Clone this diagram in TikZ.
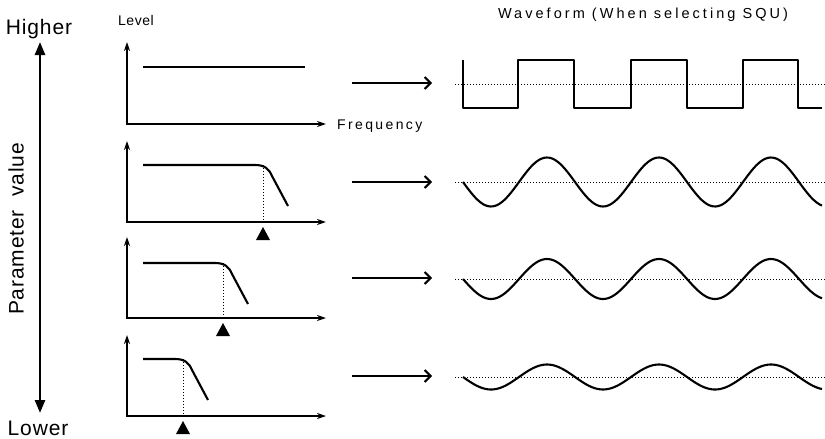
\documentclass[tikz,border=0pt]{standalone}
\usepackage{fontspec}
\setmainfont{Liberation Sans}
\newfontfamily\spacedA[LetterSpace=4]{Liberation Sans}
\newfontfamily\spacedB[LetterSpace=17]{Liberation Sans}
\newfontfamily\spacedC[LetterSpace=21]{Liberation Sans}
\newfontfamily\spacedD[LetterSpace=4]{Liberation Sans}
\usetikzlibrary{arrows.meta}
\tikzset{
  axis/.style={line width=1.7pt, {Stealth[length=9pt,width=6pt]}-{Stealth[length=9pt,width=6pt]}},
  curve/.style={line width=2.1pt, line join=round},
  dotline/.style={line width=0.9pt, dash pattern=on 1pt off 2pt},
  rowarrow/.style={line width=2.1pt, -{Straight Barb[length=6pt,width=12pt]}},
  bigarrow/.style={line width=2.6pt, {Triangle[length=13pt,width=10pt]}-{Triangle[length=13pt,width=10pt]}},
  bigtext/.style={font=\spacedD\fontsize{21}{24}\selectfont, inner sep=0pt},
  smalltext/.style={inner sep=0pt},
  marker/.style={fill=black}
}
\begin{document}
\begin{tikzpicture}[x=1pt,y=-1pt]
\useasboundingbox (0,0) rectangle (825,439);

% left scale
\node[bigtext] (higher) at (39,29) {Higher};
\node[bigtext] (lower) at (38,428) {Lower};
\node[bigtext, rotate=90] (param) at (16,229) {Parameter\ \ value};
\coordinate (top) at (40,42);
\coordinate (bot) at (40,413);
\draw[bigarrow] (top) -- (bot);

% labels
\node[smalltext, font=\spacedA\fontsize{14}{16}\selectfont] (level) at (136,20) {Level};
\node[smalltext, font=\spacedB\fontsize{14}{16}\selectfont, anchor=west] (freq) at (337,126) {Frequency};
\node[smalltext, font=\spacedC\fontsize{14.5}{17}\selectfont] (wave) at (643,15) {Waveform (When selecting SQU)};

% panel 1 (flat response)
\draw[axis] (127,42) -- (127,124) -- (326,124);
\draw[curve] (143,67) -- (305,67);

% panels 2-4 (low-pass responses)
\foreach \ay/\kx/\ky in {222/263/165, 318/223/263, 416/183/359} {
  \draw[axis] (127,\ay-81) -- (127,\ay) -- (326,\ay);
  \draw[curve] (143,\ky) -- (\kx-8,\ky) .. controls (\kx+2,\ky) and (\kx+6,\ky+4) .. (\kx+9,\ky+11) -- (\kx+25,\ky+41);
  \draw[dotline] (\kx,\ky) -- (\kx,\ay);
  \fill[marker] (\kx,\ay+5) -- (\kx+7,\ay+18) -- (\kx-7,\ay+18) -- cycle;
}

% row arrows
\foreach \y [count=\i] in {83,182,278,376} {
  \coordinate (a\i) at (352,\y);
  \coordinate (b\i) at (432,\y);
  \draw[rowarrow] (a\i) -- (b\i);
}

% dotted mid lines
\foreach \y in {84,182,279,377} {
  \draw[dotline] (455,\y) -- (825,\y);
}

% square wave
\draw[curve] (463,60) -- (463,108) -- (518,108) -- (518,60) -- (574,60) -- (574,108)
  -- (631,108) -- (631,60) -- (687,60) -- (687,108) -- (743,108) -- (743,60)
  -- (798,60) -- (798,108) -- (822,108);

% sine waves
\foreach \m/\A in {182/24.5, 279/20, 377/12.5} {
  \draw[curve] plot[domain=0:359, samples=160, smooth] ({463+\x}, {\m + \A*sin(3.2143*\x)});
}
\end{tikzpicture}
\end{document}
